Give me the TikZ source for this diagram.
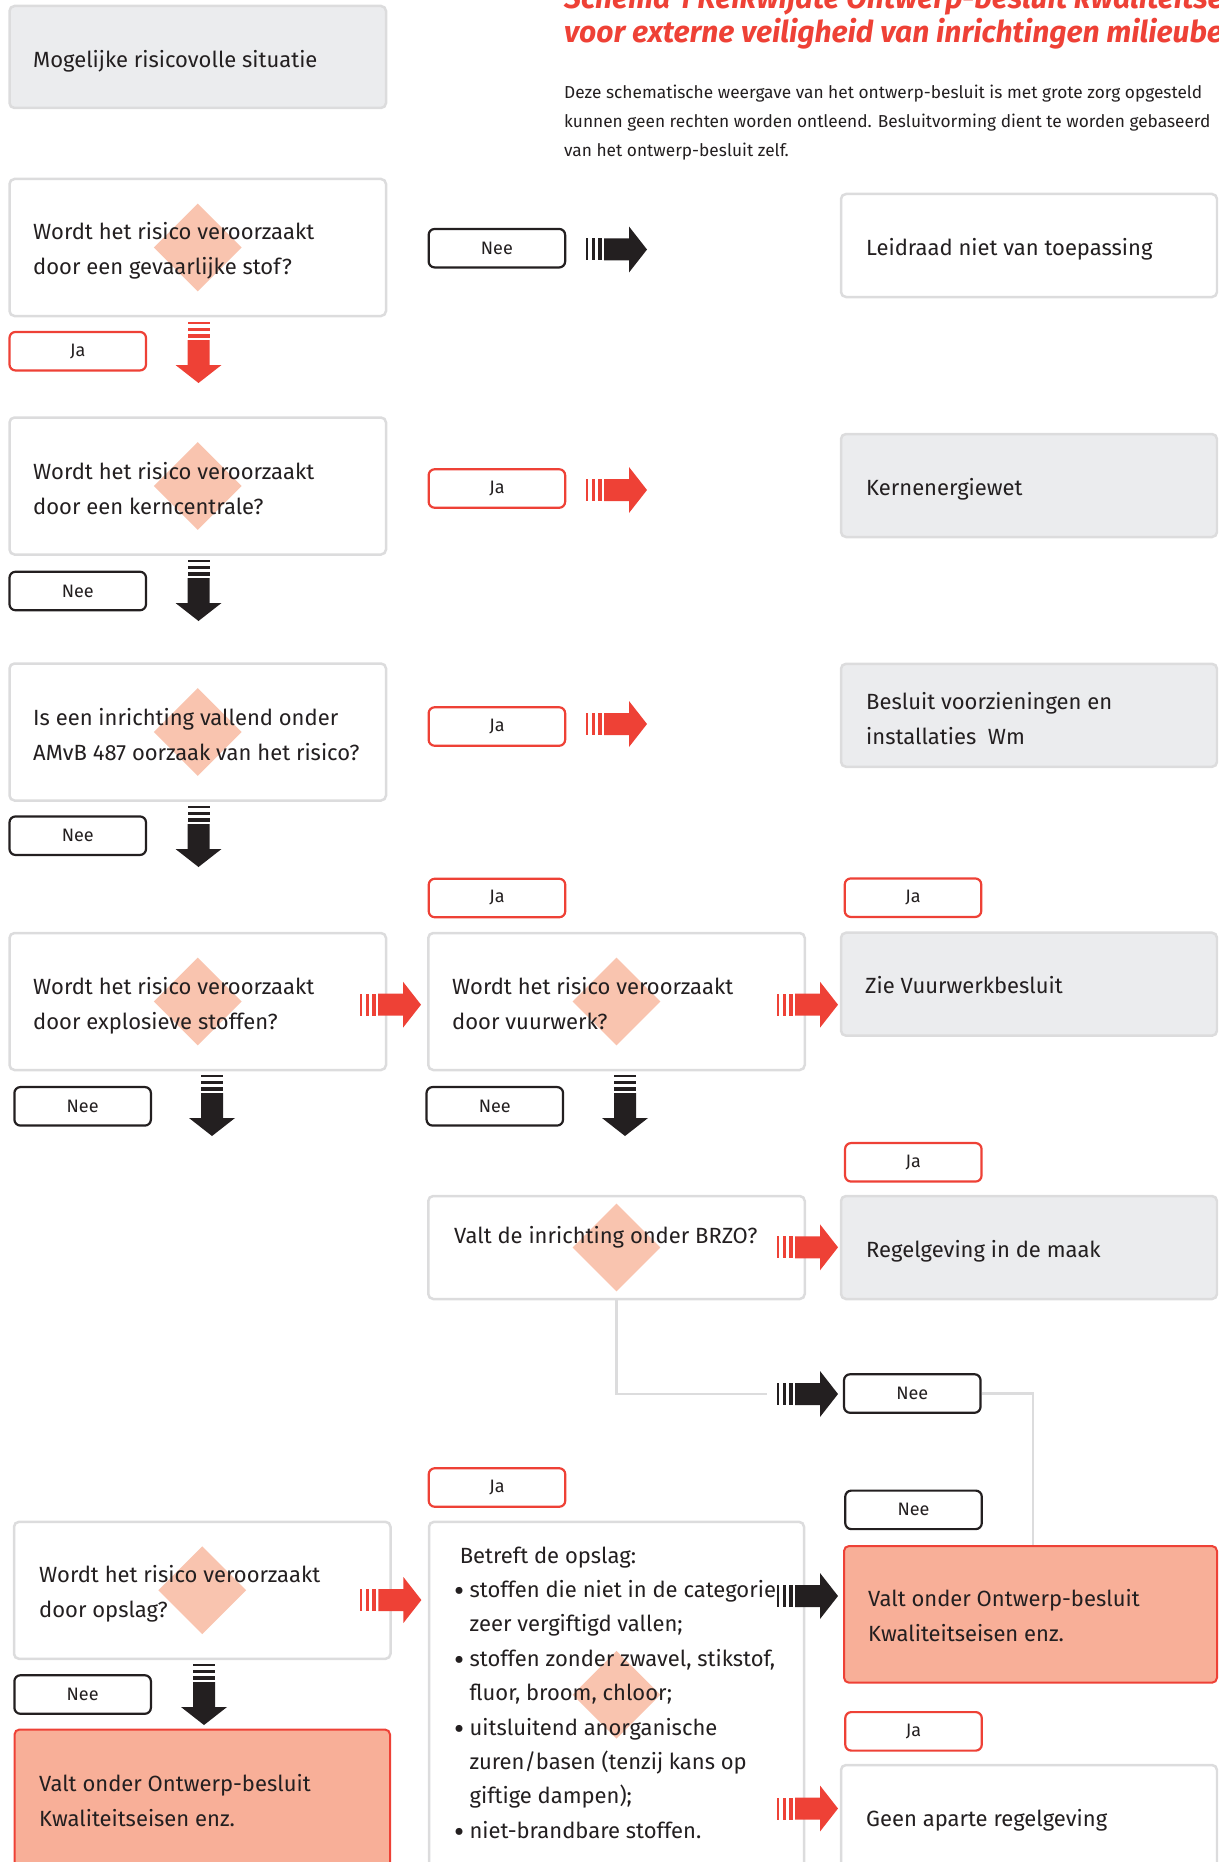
\documentclass[tikz,border=0pt]{standalone}
\usepackage{fontspec}
\setmainfont{Fira Sans}
\usetikzlibrary{shapes.geometric,calc}

\definecolor{ink}{HTML}{231F20}
\definecolor{boxline}{HTML}{DCDCDD}
\definecolor{panel}{HTML}{EBECEE}
\definecolor{alert}{HTML}{EE4136}
\definecolor{salmon}{HTML}{F8AF98}
\definecolor{rhomb}{HTML}{F9C4AF}

% two lines of box text, baseline of the node = baseline of the first line
\newcommand\twoline[2]{\vtop{\hbox{#1}\hbox{#2}}}
% list bullet and hanging indent for the storage conditions
\newcommand\bul{\makebox[15.4pt][l]{\fontsize{31}{34.4}\selectfont\raisebox{-4pt}{•}}}
\newcommand\ind{\hspace{15.4pt}}

\tikzset{
  x=1pt, y=-1pt,
  basebox/.style={rectangle, rounded corners=5pt, line width=2.5pt, inner sep=0pt},
  whitebox/.style={basebox, draw=boxline, fill=white},
  graybox/.style={basebox, draw=boxline, fill=panel},
  hotbox/.style={basebox, draw=alert, line width=2pt, fill=salmon},
  rhombus/.style={diamond, aspect=1, fill=rhomb, inner sep=0pt,
    minimum width=88pt, minimum height=88pt},
  txt/.style={anchor=base west, inner sep=0pt, text=ink,
    font=\fontsize{22}{35}\selectfont},
  tag/.style={rectangle, rounded corners=6pt, line width=2.2pt, fill=white,
    minimum width=136.5pt, minimum height=38.5pt, inner sep=0pt, text=ink,
    font=\fontsize{18}{20}\selectfont},
  jatag/.style={tag, draw=alert},
  neetag/.style={tag, draw=ink},
  link/.style={draw=boxline, line width=2.5pt},
  % striped block arrow pointing along +x, tail at the origin
  flowarr/.pic={
    \fill[pic actions] (0,-11) rectangle (2,11);
    \fill[pic actions] (6,-11) rectangle (9,11);
    \fill[pic actions] (12,-11) rectangle (16,11);
    \fill[pic actions] (18,-11) -- (43,-11) -- (43,-23) -- (61,0)
      -- (43,23) -- (43,11) -- (18,11) -- cycle;
  },
}

\begin{document}
\begin{tikzpicture}
\useasboundingbox (0,0) rectangle (1218,1862);
\clip (0,0) rectangle (1218,1862);

% ---------- heading ----------
\node[anchor=base west, inner sep=0pt, text=alert,
      font=\fontsize{30}{34}\selectfont\bfseries\itshape] (title) at (564,8.5)
  {\vtop{\hbox{Schema 1 Reikwijdte Ontwerp-besluit kwaliteitseisen}
         \hbox{voor externe veiligheid van inrichtingen milieubeheer}}};
\node[anchor=base west, inner sep=0pt, text=ink,
      font=\fontsize{17.3}{29}\selectfont] (intro) at (564,99)
  {\vtop{\hbox{Deze schematische weergave van het ontwerp-besluit is met grote zorg opgesteld}
         \hbox{kunnen geen rechten worden ontleend. Besluitvorming dient te worden gebaseerd}
         \hbox{van het ontwerp-besluit zelf.}}};

% ---------- boxes ----------
\node[graybox, minimum width=376.5pt, minimum height=102pt] (start) at (197.75,57) {};

\node[whitebox, minimum width=376.5pt, minimum height=137pt] (q1) at (197.75,247.5) {};
\node[whitebox, minimum width=376.5pt, minimum height=137pt] (q2) at (197.75,486) {};
\node[whitebox, minimum width=376.5pt, minimum height=137pt] (q3) at (197.75,732) {};
\node[whitebox, minimum width=376.5pt, minimum height=137pt] (q4) at (197.75,1001.5) {};
\node[whitebox, minimum width=376.5pt, minimum height=137pt] (q5) at (616.5,1001.5) {};
\node[whitebox, minimum width=376.5pt, minimum height=103pt] (q6) at (616.5,1247.5) {};
\node[whitebox, minimum width=376.5pt, minimum height=137pt] (q7) at (202.25,1590.3) {};
\node[whitebox, minimum width=375pt, minimum height=346pt] (q8) at (616.5,1694.8) {};
\node[hotbox, minimum width=375.5pt, minimum height=150pt] (endl) at (202.25,1804.5) {};

\node[whitebox, minimum width=376pt, minimum height=103pt] (r1) at (1029,245.5) {};
\node[graybox, minimum width=376pt, minimum height=103pt] (r2) at (1029,485.5) {};
\node[graybox, minimum width=376pt, minimum height=103pt] (r3) at (1029,715.3) {};
\node[graybox, minimum width=376pt, minimum height=103pt] (r4) at (1029,984.2) {};
\node[graybox, minimum width=376pt, minimum height=103pt] (r5) at (1029,1247.5) {};
\node[hotbox, minimum width=373pt, minimum height=136.7pt] (r6) at (1030.5,1614.35) {};
\node[whitebox, minimum width=376pt, minimum height=115pt] (r7) at (1029,1822.5) {};

% ---------- decision marks ----------
\foreach \q in {q1,q2,q3,q4,q5,q6,q7,q8}
  \node[rhombus] (\q d) at (\q.center) {};

% ---------- answer tags ----------
\node[jatag] (ja1) at (77.75,351.2) {Ja};
\node[neetag] (nee1) at (496.9,248.2) {Nee};
\node[jatag] (ja2) at (496.9,488.5) {Ja};
\node[neetag] (nee2) at (77.75,591) {Nee};
\node[jatag] (ja3) at (496.9,726.5) {Ja};
\node[neetag] (nee3) at (77.75,835.7) {Nee};
\node[jatag] (ja4) at (497,898) {Ja};
\node[jatag] (ja5) at (913,897.7) {Ja};
\node[neetag] (nee4) at (82.65,1106.3) {Nee};
\node[neetag] (nee5) at (494.8,1106.3) {Nee};
\node[jatag] (ja6) at (913.3,1162.3) {Ja};
\node[neetag] (nee6) at (912.3,1393.5) {Nee};
\node[neetag] (nee7) at (913.5,1509.85) {Nee};
\node[jatag] (ja7) at (497,1487.5) {Ja};
\node[neetag] (nee8) at (82.65,1694.5) {Nee};
\node[jatag] (ja8) at (913.5,1731.35) {Ja};

% ---------- grey connectors ----------
\coordinate (brzo) at (767,1394);
\coordinate (drop) at ($(r6.north)+(2.5,0)$);
\draw[link] (q6.south) |- (brzo);
\draw[link] (nee6.east) -| (drop);

% ---------- texts ----------
\node[txt] (startt) at (33,67.5) {Mogelijke risicovolle situatie};
\node[txt] (q1t) at (33,240) {\twoline{Wordt het risico veroorzaakt}{door een gevaarlijke stof?}};
\node[txt] (q2t) at (33,479) {\twoline{Wordt het risico veroorzaakt}{door een kerncentrale?}};
\node[txt] (q3t) at (33,725) {\twoline{Is een inrichting vallend onder}{AMvB 487 oorzaak van het risico?}};
\node[txt] (q4t) at (33,994) {\twoline{Wordt het risico veroorzaakt}{door explosieve stoffen?}};
\node[txt] (q5t) at (452,994) {\twoline{Wordt het risico veroorzaakt}{door vuurwerk?}};
\node[txt] (q6t) at (454,1243) {Valt de inrichting onder BRZO?};
\node[txt] (q7t) at (39,1582) {\twoline{Wordt het risico veroorzaakt}{door opslag?}};
\node[txt] (endlt) at (39,1791) {\twoline{Valt onder Ontwerp-besluit}{Kwaliteitseisen enz.}};

\node[txt] (r1t) at (866,255.5) {Leidraad niet van toepassing};
\node[txt] (r2t) at (866,495) {Kernenergiewet};
\node[txt] (r3t) at (866,709) {\twoline{Besluit voorzieningen en}{installaties\ \ Wm}};
\node[txt] (r4t) at (865,993) {Zie Vuurwerkbesluit};
\node[txt] (r5t) at (866,1257) {Regelgeving in de maak};
\node[txt] (r6t) at (868,1606.5) {\twoline{Valt onder Ontwerp-besluit}{Kwaliteitseisen enz.}};
\node[txt] (r7t) at (866,1826) {Geen aparte regelgeving};

\node[txt, font=\fontsize{22}{34.4}\selectfont] (q8t) at (454,1563)
  {\vtop{\hbox{\hspace{5.6pt}Betreft de opslag:}
         \hbox{\bul stoffen die niet in de categorie}
         \hbox{\ind zeer vergiftigd vallen;}
         \hbox{\bul stoffen zonder zwavel, stikstof,}
         \hbox{\ind fluor, broom, chloor;}
         \hbox{\bul uitsluitend anorganische}
         \hbox{\ind zuren/basen (tenzij kans op}
         \hbox{\ind giftige dampen);}
         \hbox{\bul niet-brandbare stoffen.}}};

% ---------- striped arrows ----------
\pic[fill=ink] at (586,249.5) {flowarr};
\pic[fill=alert, rotate=-90] at (198.5,322) {flowarr};
\pic[fill=alert] at (586,490) {flowarr};
\pic[fill=ink, rotate=-90] at (198.5,560) {flowarr};
\pic[fill=alert] at (586,724) {flowarr};
\pic[fill=ink, rotate=-90] at (198.5,806) {flowarr};
\pic[fill=alert] at (360,1004.7) {flowarr};
\pic[fill=alert] at (777,1004.7) {flowarr};
\pic[fill=ink, rotate=-90] at (212,1075) {flowarr};
\pic[fill=ink, rotate=-90] at (625,1075) {flowarr};
\pic[fill=alert] at (777,1247.3) {flowarr};
\pic[fill=ink] at (777,1394) {flowarr};
\pic[fill=alert] at (360.4,1600) {flowarr};
\pic[fill=ink, rotate=-90] at (204,1664) {flowarr};
\pic[fill=ink] at (777,1596) {flowarr};
\pic[fill=alert] at (777,1808.5) {flowarr};
\end{tikzpicture}
\end{document}
